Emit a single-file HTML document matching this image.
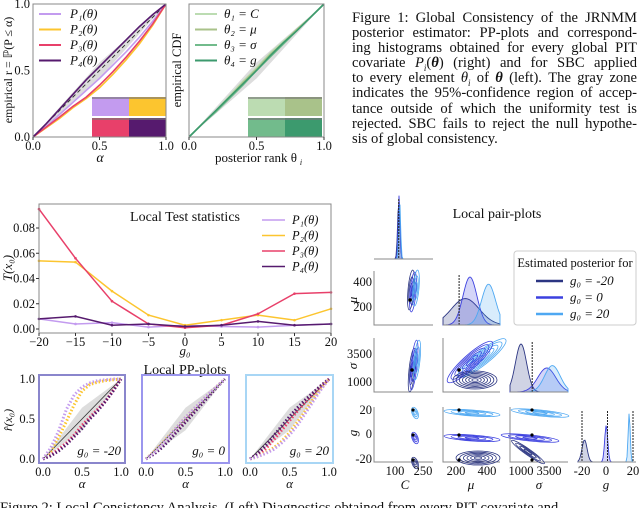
<!DOCTYPE html>
<html><head><meta charset="utf-8"><style>
html,body{margin:0;padding:0;background:#fff;}
body{width:640px;height:508px;overflow:hidden;position:relative;font-family:"Liberation Serif",serif;}
svg{position:absolute;left:0;top:0;}
.cap{position:absolute;left:352px;top:11px;width:285px;font-size:14.6px;line-height:15.1px;color:#111;}
.cap div{text-align:justify;text-align-last:justify;white-space:nowrap;height:15.1px;}
.cap div.last{text-align-last:left;}
</style></head><body>
<svg id="fig" width="640" height="508" viewBox="0 0 640 508" font-family="Liberation Serif, serif"></svg>
<div class="cap">
<div>Figure 1: Global Consistency of the JRNMM</div>
<div>posterior estimator: PP-plots and correspond-</div>
<div>ing histograms obtained for every global PIT</div>
<div>covariate <i>P<sub style="font-size:9px">i</sub></i>(<b><i>θ</i></b>) (right) and for SBC applied</div>
<div>to every element <i>θ<sub style="font-size:9px">i</sub></i> of <b><i>θ</i></b> (left). The gray zone</div>
<div>indicates the 95%-confidence region of accep-</div>
<div>tance outside of which the uniformity test is</div>
<div>rejected. SBC fails to reject the null hypothe-</div>
<div class="last">sis of global consistency.</div>
</div>
<script>
// ---------- data ----------
const alphaGrid=[0,0.1,0.2,0.3,0.4,0.5,0.6,0.7,0.8,0.9,1];
const pitP1=[0,0.08,0.17,0.26,0.35,0.44,0.54,0.64,0.75,0.87,1];
const pitP2=[0,0.07,0.14,0.22,0.29,0.37,0.47,0.58,0.70,0.84,1];
const pitP3=[0,0.075,0.15,0.23,0.30,0.39,0.49,0.60,0.72,0.85,1];
const pitP4=[0,0.10,0.21,0.32,0.43,0.53,0.63,0.73,0.83,0.92,1];
const sbcC=[0,0.1,0.2,0.31,0.42,0.52,0.63,0.72,0.81,0.9,1];
const sbcMu=[0,0.1,0.2,0.30,0.41,0.51,0.62,0.71,0.81,0.9,1];
const sbcSigma=[0,0.1,0.19,0.29,0.39,0.50,0.60,0.70,0.80,0.9,1];
const sbcG=[0,0.1,0.2,0.30,0.40,0.50,0.61,0.71,0.80,0.9,1];
const g0Values=[-20,-15,-10,-5,0,5,10,15,20];
const statP1=[0.008,0.004,0.005,0.0015,0.003,0.002,0.0015,0.003,0.004];
const statP2=[0.054,0.053,0.030,0.011,0.003,0.007,0.011,0.007,0.016];
const statP3=[0.095,0.056,0.022,0.004,0.001,0.003,0.012,0.028,0.029];
const statP4=[0.008,0.010,0.003,0.004,0.002,0.003,0.006,0.003,0.004];
const statYTicks=[0,0.02,0.04,0.06,0.08];
const statYLabels=["0.00","0.02","0.04","0.06","0.08"];
const statXLabels=["\u221220","\u221215","\u221210","\u22125","0","5","10","15","20"];
const localM20=[[0,0.14,0.35,0.62,0.80,0.90,0.95,0.98,0.99,1,1],[0,0.10,0.27,0.47,0.68,0.85,0.93,0.96,0.98,0.99,1],[0,0.05,0.12,0.2,0.3,0.42,0.52,0.62,0.72,0.86,1],[0,0.04,0.1,0.18,0.28,0.38,0.5,0.6,0.72,0.85,1]];
const local0=[[0,0.08,0.18,0.29,0.41,0.52,0.62,0.72,0.82,0.91,1],[0,0.09,0.19,0.3,0.41,0.52,0.62,0.72,0.82,0.91,1],[0,0.08,0.17,0.28,0.38,0.49,0.60,0.71,0.81,0.91,1],[0,0.06,0.14,0.24,0.35,0.46,0.57,0.68,0.79,0.9,1]];
const local20=[[0,0.03,0.07,0.12,0.2,0.3,0.42,0.57,0.72,0.87,1],[0,0.03,0.08,0.14,0.22,0.33,0.46,0.6,0.75,0.88,1],[0,0.05,0.13,0.24,0.36,0.48,0.6,0.71,0.81,0.91,1],[0,0.07,0.17,0.29,0.41,0.53,0.64,0.74,0.83,0.92,1]];
const pitColors=["#c39bef","#fcc52f","#e8406a","#561a6e"];
const sbcColors=["#bcdcb2","#a9c28a","#72bb8c","#3c9a6e"];
const postColors=["#2b3582","#3c40df","#4ea8f2"];
// ---------- helpers ----------
const S=document.getElementById('fig');const NS="http://www.w3.org/2000/svg";
function el(t,a,p){const e=document.createElementNS(NS,t);for(const k in a)e.setAttribute(k,a[k]);(p||S).appendChild(e);return e;}
function txt(x,y,s,o,p){const e=el('text',Object.assign({x:x,y:y,'font-size':12,fill:'#111','text-anchor':'middle'},o||{}),p);e.textContent=s;return e;}
function lin(d0,d1,r0,r1){return v=>r0+(v-d0)/(d1-d0)*(r1-r0);}
function frame(x0,y0,x1,y1,name,stroke){const r=el('rect',{x:x0,y:y0,width:x1-x0,height:y1-y0,fill:'none',stroke:stroke||'#888','stroke-width':stroke?2:1});return r;}
// ---------- top PP panels ----------
function ppPanel(x0,x1,y0,y1,series,colors,name){
  const sx=lin(0,1,x0,x1),sy=lin(0,1,y1,y0);
  const g=el('g',{});
  el('polygon',{points:[[0,0],[0.5,0.44],[1,1],[0.5,0.56]].map(p=>sx(p[0])+','+sy(p[1])).join(' '),fill:'#ddd'},g);
  el('line',{x1:sx(0),y1:sy(0),x2:sx(1),y2:sy(1),stroke:'#333','stroke-dasharray':'4 3'},g);
  series.forEach((s,i)=>{const l=el('polyline',{points:s.map((v,j)=>sx(alphaGrid[j])+','+sy(v)).join(' '),fill:'none',stroke:colors[i],'stroke-width':1.6},g);});
  const hx=x0+59,hw=37,hy=[y1-40,y1-19],hh=19;
  for(let k=0;k<4;k++){const r=el('rect',{x:hx+(k%2)*hw,y:hy[k>>1],width:hw,height:hh,fill:colors[k]},g);
    el('line',{x1:hx+(k%2)*hw,x2:hx+(k%2+1)*hw,y1:hy[k>>1]+1,y2:hy[k>>1]+1,stroke:'#777','stroke-width':1.3},g);}
  frame(x0,y0,x1,y1,name+'-frame');
  ['0.0','0.5','1.0'].forEach((t,i)=>{txt(sx(i/2),y1+13,t,{'font-size':12.5});el('line',{x1:sx(i/2),x2:sx(i/2),y1:y1,y2:y1+3,stroke:'#333'});});
}
ppPanel(33,166,4,137,[pitP1,pitP2,pitP3,pitP4],pitColors,'global-pit-panel');
ppPanel(189,324,4,137,[sbcC,sbcMu,sbcSigma,sbcG],sbcColors,'sbc-panel');
['0.0','0.5','1.0'].forEach((t,i)=>{txt(30,137-i*66.5+4,t,{'text-anchor':'end','font-size':12.5});});
txt(100,162,'α',{'font-style':'italic','font-size':14});
txt(256,162,'posterior rank θ',{'font-size':13});txt(301,165,'i',{'font-size':8,'font-style':'italic'});
txt(12,70,'empirical r  = ℙ(P ≤ α)',{'font-size':12,transform:'rotate(-90 12 70)'});
txt(181,70,'empirical CDF',{'font-size':12.5,transform:'rotate(-90 181 70)'});
const leg1=[['P₁(θ)',pitColors[0]],['P₂(θ)',pitColors[1]],['P₃(θ)',pitColors[2]],['P₄(θ)',pitColors[3]]];
leg1.forEach((l,i)=>{const y=14+i*15.5;el('line',{x1:39,x2:61,y1:y,y2:y,stroke:l[1],'stroke-width':2});txt(70,y+4,l[0],{'text-anchor':'start','font-size':13,'font-style':'italic'});});
const leg2=[['θ₁ = C',sbcColors[0]],['θ₂ = μ',sbcColors[1]],['θ₃ = σ',sbcColors[2]],['θ₄ = g',sbcColors[3]]];
leg2.forEach((l,i)=>{const y=14+i*15.5;el('line',{x1:195,x2:217,y1:y,y2:y,stroke:l[1],'stroke-width':2});txt(224,y+4,l[0],{'text-anchor':'start','font-size':13,'font-style':'italic'});});
// ---------- local test statistics ----------
{const X0=39,X1=331,Y0=204,Y1=333;const sx=lin(-20,20,X0,X1),sy=lin(0,0.08,329,228);
 const g=el('g',{});
 [statP1,statP2,statP3,statP4].forEach((s,i)=>{const l=el('polyline',{points:s.map((v,j)=>sx(g0Values[j])+','+sy(v)).join(' '),fill:'none',stroke:pitColors[i],'stroke-width':1.5},g);
   s.forEach((v,j)=>el('circle',{cx:sx(g0Values[j]),cy:sy(v),r:1.3,fill:pitColors[i]},g));});
 frame(X0,Y0,X1,Y1,'stat-frame');
 statYTicks.forEach((t,i)=>{el('line',{x1:X0-3,x2:X0,y1:sy(t),y2:sy(t),stroke:'#333'});txt(X0-4,sy(t)+4,statYLabels[i],{'text-anchor':'end','font-size':12.5});});
 g0Values.forEach((t,i)=>{el('line',{x1:sx(t),x2:sx(t),y1:Y1,y2:Y1+3,stroke:'#333'});txt(sx(t),Y1+13,statXLabels[i],{'font-size':12.5});});
 txt(185,355,'g₀',{'font-style':'italic','font-size':13});
 txt(185,221,'Local Test statistics',{'font-size':14});
 txt(12,268,'T(x₀)',{'font-style':'italic','font-size':13,transform:'rotate(-90 12 268)'});
 leg1.forEach((l,i)=>{const y=220+i*15.5;el('line',{x1:262,x2:285,y1:y,y2:y,stroke:l[1],'stroke-width':1.6});txt(292,y+4,l[0],{'text-anchor':'start','font-size':12.5,'font-style':'italic'});});
}
txt(185,374,'Local PP-plots',{'font-size':14});
// ---------- local PP plots ----------
function localPanel(x0,x1,y0,y1,data,border,label,ticks,name){
  const sx=lin(0,1,x0+4,x1-4),sy=lin(0,1,y1-4,y0+4);
  const g=el('g',{});
  el('polygon',{points:[[0,0],[0.5,0.36],[1,1],[0.5,0.64]].map(p=>sx(p[0])+','+sy(p[1])).join(' '),fill:'#ddd'},g);
  el('line',{x1:sx(0),y1:sy(0),x2:sx(1),y2:sy(1),stroke:'#333','stroke-width':0.8},g);
  [2,1,3,0].forEach(i=>{const l=el('polyline',{points:data[i].map((v,j)=>sx(alphaGrid[j])+','+sy(v)).join(' '),fill:'none',stroke:pitColors[i],'stroke-width':3,'stroke-dasharray':'1.5 2'},g);});
  frame(x0,y0,x1,y1,name+'-frame',border);
  txt(x1-4,y1-8,label,{'text-anchor':'end','font-size':13,'font-style':'italic'});
  ['0.0','0.5','1.0'].forEach((t,i)=>{txt(sx(i/2),y1+13,t,{'font-size':12.5});if(ticks)txt(x0-4,sy(i/2)+4,t,{'text-anchor':'end','font-size':12.5});});
  txt((x0+x1)/2,y1+25,'α',{'font-style':'italic','font-size':13});
}
localPanel(39,125,375,463,localM20,'#8a86cc','g₀ = -20',true,'local-pp-g0-minus20');
localPanel(142,229,375,463,local0,'#9b96ee','g₀ = 0',false,'local-pp-g0-0');
localPanel(246,333,375,463,local20,'#a8d6f5','g₀ = 20',false,'local-pp-g0-20');
txt(12,420,'r̂(x₀)',{'font-style':'italic','font-size':12,transform:'rotate(-90 12 420)'});
// ---------- pair plots ----------
const kdeC=[[120,6,1],[122,5,1.1],[125,5,1]];
const kdeMu=[[260,90,0.55],[290,45,1],[410,45,0.85]];
const kdeSigma=[[1000,500,1],[3300,800,0.5],[3800,700,0.55]];
const kdeG=[[-18,2,0.45],[-1,1.2,0.75],[17,0.8,1]];
const trueVals=[120,220,2000,0];
{const pg=el('g',{});
 const cols=[[374,433],[443,500],[510,568],[578,636]],rows=[[195,259],[271,325],[338,392],[407,462]];
 const sC=lin(100,250,395,423),sMu=lin(200,400,456,487),sSig=lin(1000,3500,521,549),sG=lin(-20,20,582,633);
 const scales=[sC,sMu,sSig,sG];
 function kde(ci,params){const [a,b]=cols[ci],[t,bt]=rows[ci];
   params.forEach((p,k)=>{let pts=[];for(let x=a;x<=b;x+=1){
     const d=(x-scales[ci](p[0]))/(scales[ci](p[0]+p[1])-scales[ci](p[0]));const v=p[2]*Math.exp(-0.5*d*d);pts.push(x+','+(bt-v*(bt-t-6)));}
     const pa=el('polygon',{points:a+','+bt+' '+pts.join(' ')+' '+b+','+bt,fill:postColors[k],'fill-opacity':0.22,stroke:postColors[k],'stroke-width':0.9},pg);});
   el('line',{x1:scales[ci](trueVals[ci]),x2:scales[ci](trueVals[ci]),y1:t+4,y2:bt,stroke:'#222','stroke-dasharray':'2 1'},pg);
   el('line',{x1:a,x2:b,y1:bt,y2:bt,stroke:'#888'},pg);}
 kde(0,kdeC);kde(1,kdeMu);kde(2,kdeSigma);kde(3,kdeG);
 [-20,20].forEach(v=>el('line',{x1:sG(v),x2:sG(v),y1:rows[3][0]+4,y2:rows[3][1],stroke:'#222','stroke-dasharray':'2 1'},pg));
 function contour(cx,cy,rx,ry,rot,col,n){for(let i=0;i<n;i++){const f=1-i/n;el('ellipse',{cx:cx,cy:cy,rx:rx*f,ry:ry*f,transform:`rotate(${rot} ${cx} ${cy})`,fill:'none',stroke:col,'stroke-width':0.8},pg);}}
 [[1,0],[2,0],[2,1],[3,0],[3,1],[3,2]].forEach(([r,c])=>{const [a,b]=cols[c],[t,bt]=rows[r];el('polyline',{points:`${a},${t} ${a},${bt} ${b},${bt}`,fill:'none',stroke:'#888'},pg);});
 contour(411,290,3,20,5,postColors[0],3);contour(413,292,3,20,5,postColors[1],3);contour(416,288,3,18,5,postColors[2],3);
 el('circle',{cx:410,cy:300,r:1.8,fill:'#000'},pg);
 contour(412,370,3,22,6,postColors[0],3);contour(414,365,3,25,6,postColors[1],3);contour(417,360,3,20,6,postColors[2],3);
 el('circle',{cx:412,cy:370,r:1.8,fill:'#000'},pg);
 contour(482,358,30,7,-38,postColors[2],6);contour(470,362,30,7,-42,postColors[1],6);contour(475,380,22,9,0,postColors[0],7);
 el('circle',{cx:459,cy:370,r:1.8,fill:'#000'},pg);
 const rowY=v=>lin(-20,20,460,410)(v);
 [[20,2],[0,1],[-20,0]].forEach(([v,k])=>{
   contour(415,rowY(v)+3,3,6,-20,postColors[k],3);
   if(k>0)contour(472,rowY(v)+3,28,3,4,postColors[k],4);else contour(478,rowY(v)-2,22,7,0,postColors[k],6);
   if(k>0)contour(540-(k===1?10:0),rowY(v)+3,29,3,6,postColors[k],4);else contour(528,rowY(v)-8,20,3,35,postColors[k],4);
   [413,459,532].forEach(x=>el('circle',{cx:x,cy:rowY(v),r:1.6,fill:'#000'},pg));});
 txt(372,286,'400',{'text-anchor':'end','font-size':12.5});txt(372,311,'200',{'text-anchor':'end','font-size':12.5});
 txt(372,358,'3500',{'text-anchor':'end','font-size':12.5});txt(372,386,'1000',{'text-anchor':'end','font-size':12.5});
 txt(372,414,'20',{'text-anchor':'end','font-size':12.5});txt(372,438,'0',{'text-anchor':'end','font-size':12.5});txt(372,463,'-20',{'text-anchor':'end','font-size':12.5});
 [['100',395],['250',423],['200',456],['400',487],['1000',521],['3500',549],['-20',582],['0',606],['20',633]].forEach(t=>txt(t[1],475,t[0],{'font-size':12.5}));
 [['C',405],['μ',471],['σ',539],['g',606]].forEach(t=>txt(t[1],489,t[0],{'font-style':'italic','font-size':13}));
 [['μ',300],['σ',366],['g',433]].forEach(t=>txt(357,t[1],t[0],{'font-style':'italic','font-size':13,transform:`rotate(-90 357 ${t[1]})`}));
 txt(497,218,'Local pair-plots',{'font-size':14});
 const lg=el('g',{});
 el('rect',{x:514,y:251,width:122,height:74,rx:3,fill:'#fff',stroke:'#ccc'},lg);
 txt(575,267,'Estimated posterior for',{'font-size':12.5},lg);
 ['-20','0','20'].forEach((v,i)=>{const y=281+i*16.5;el('line',{x1:536,x2:563,y1:y,y2:y,stroke:postColors[i],'stroke-width':2.5},lg);txt(570,y+4,'g₀ = '+v,{'text-anchor':'start','font-size':13,'font-style':'italic'},lg);});
}
txt(0,512,'Figure 2: Local Consistency Analysis. (Left) Diagnostics obtained from every PIT covariate and',{'text-anchor':'start','font-size':14.5});
</script>
</body></html>
